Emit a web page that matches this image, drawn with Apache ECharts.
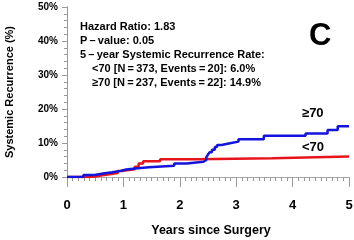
<!DOCTYPE html>
<html><head><meta charset="utf-8">
<script src="https://cdn.jsdelivr.net/npm/echarts@6/dist/echarts.min.js"></script>
<style>html,body{margin:0;padding:0;background:#fff}#c{width:354px;height:240px}</style>
</head><body><div id="c"></div>
<script>
// Kaplan-Meier style cumulative recurrence (years, percent)
const under70Years = [0, 0.45, 0.6, 0.75, 0.9, 1.0, 1.2, 1.27, 1.35, 1.65, 2.3, 3.64, 5.0];
const under70Pct   = [0, 0.4, 0.8, 1.2, 1.8, 2.3, 3.0, 4.0, 4.6, 5.2, 5.5, 6.0, 6.0];
const over70Years  = [0, 0.29, 0.49, 0.64, 0.8, 0.95, 1.05, 1.21, 1.45, 1.9, 2.12, 2.42, 2.47, 2.5, 2.53, 2.57, 2.62, 2.66, 2.74, 2.89, 3.04, 3.49, 4.23, 4.62, 4.8, 5.0];
const over70Pct    = [0, 0.6, 1.0, 1.4, 1.8, 2.2, 2.5, 2.9, 3.3, 4.0, 4.5, 5.0, 5.8, 6.6, 7.3, 8.0, 8.8, 9.4, 9.9, 10.4, 11.1, 12.1, 12.8, 13.8, 14.9, 14.9];
const xTicks = [0, 1, 2, 3, 4, 5];
const yTicks = [0, 10, 20, 30, 40, 50];
const annotationLines = [
  "Hazard Ratio: 1.83",
  "P\u2009\u2013\u2009value: 0.05",
  "5\u2009\u2013\u2009year Systemic Recurrence Rate:",
  "<70 [N\u2009=\u2009373, Events\u2009=\u200920]: 6.0%",
  "\u226570 [N\u2009=\u2009237, Events\u2009=\u200922]: 14.9%"
];
const seriesLabels = ["<70", "\u226570"];

const FONT = '"Liberation Sans", Arial, sans-serif';
const RED = '#e8141c', BLUE = '#1414dc', AX = '#9a9a9a';
const zip = (a, b) => a.map((v, i) => [v, b[i]]);

const chart = echarts.init(document.getElementById('c'), null, {renderer: 'canvas'});
chart.setOption({
  animation: false,
  grid: {left: 67, right: 5, top: 7, bottom: 63, containLabel: false, outerBoundsMode: 'none'},
  xAxis: [{
    type: 'value', min: xTicks[0], max: xTicks[xTicks.length - 1], interval: 1,
    offset: 5,
    axisLine: {lineStyle: {color: AX, width: 1}},
    axisTick: {show: true, length: 10, lineStyle: {color: AX}},
    minorTick: {show: true, splitNumber: 10, length: 4, lineStyle: {color: AX}},
    splitLine: {show: false},
    axisLabel: {margin: 17, fontFamily: FONT, fontWeight: 'bold', fontSize: 13, color: '#000'},
    name: 'Years since Surgery', nameLocation: 'middle', nameGap: 42,
    nameTextStyle: {fontFamily: FONT, fontWeight: 'bold', fontSize: 12.5, color: '#000', padding: [0, 0, 0, 6]}
  }, {
    type: 'value', position: 'top', min: 0, max: 5,
    axisLine: {show: true, lineStyle: {color: '#aaaaaa', type: [5, 3], width: 1}},
    axisTick: {show: false}, axisLabel: {show: false}, splitLine: {show: false}
  }],
  yAxis: [{
    type: 'value', min: yTicks[0], max: yTicks[yTicks.length - 1], interval: 10,
    axisLine: {show: true, lineStyle: {color: AX}},
    axisTick: {show: true, length: 5, lineStyle: {color: AX}},
    minorTick: {show: true, splitNumber: 5, length: 3, lineStyle: {color: AX}},
    splitLine: {show: false},
    axisLabel: {margin: 9, fontFamily: FONT, fontWeight: 'bold', fontSize: 10, color: '#000', formatter: v => v + '%'},
    name: 'Systemic Recurrence (%)', nameLocation: 'middle', nameGap: 52, nameRotate: 90,
    nameTextStyle: {fontFamily: FONT, fontWeight: 'bold', fontSize: 11, color: '#000'}
  }, {
    type: 'value', position: 'right', min: 0, max: 50,
    axisLine: {show: true, lineStyle: {color: AX}},
    axisTick: {show: false}, axisLabel: {show: false}, splitLine: {show: false}
  }],
  series: [{
    name: seriesLabels[0], type: 'line', step: 'end', showSymbol: false,
    data: zip(under70Years, under70Pct),
    lineStyle: {color: RED, width: 2.5}, z: 2
  }, {
    name: seriesLabels[1], type: 'line', step: 'end', showSymbol: false,
    data: zip(over70Years, over70Pct),
    lineStyle: {color: BLUE, width: 2.5}, z: 3
  }],
  graphic: [
    {type: 'text', left: 80, top: 21, style: {text: annotationLines[0], font: 'bold 11px ' + FONT, fill: '#000'}},
    {type: 'text', left: 80, top: 35, style: {text: annotationLines[1], font: 'bold 11px ' + FONT, fill: '#000'}},
    {type: 'text', left: 80, top: 49, style: {text: annotationLines[2], font: 'bold 11px ' + FONT, fill: '#000'}},
    {type: 'text', left: 92, top: 63, style: {text: annotationLines[3], font: 'bold 11px ' + FONT, fill: '#000'}},
    {type: 'text', left: 92, top: 77, style: {text: annotationLines[4], font: 'bold 11px ' + FONT, fill: '#000'}},
    {type: 'text', left: 309, top: 21, style: {text: 'C', font: 'bold 31px ' + FONT, fill: '#000'}},
    {type: 'text', left: 302, top: 107, style: {text: seriesLabels[1], font: 'bold 13px ' + FONT, fill: '#000'}},
    {type: 'text', left: 302, top: 141, style: {text: seriesLabels[0], font: 'bold 13px ' + FONT, fill: '#000'}}
  ]
});
</script></body></html>
